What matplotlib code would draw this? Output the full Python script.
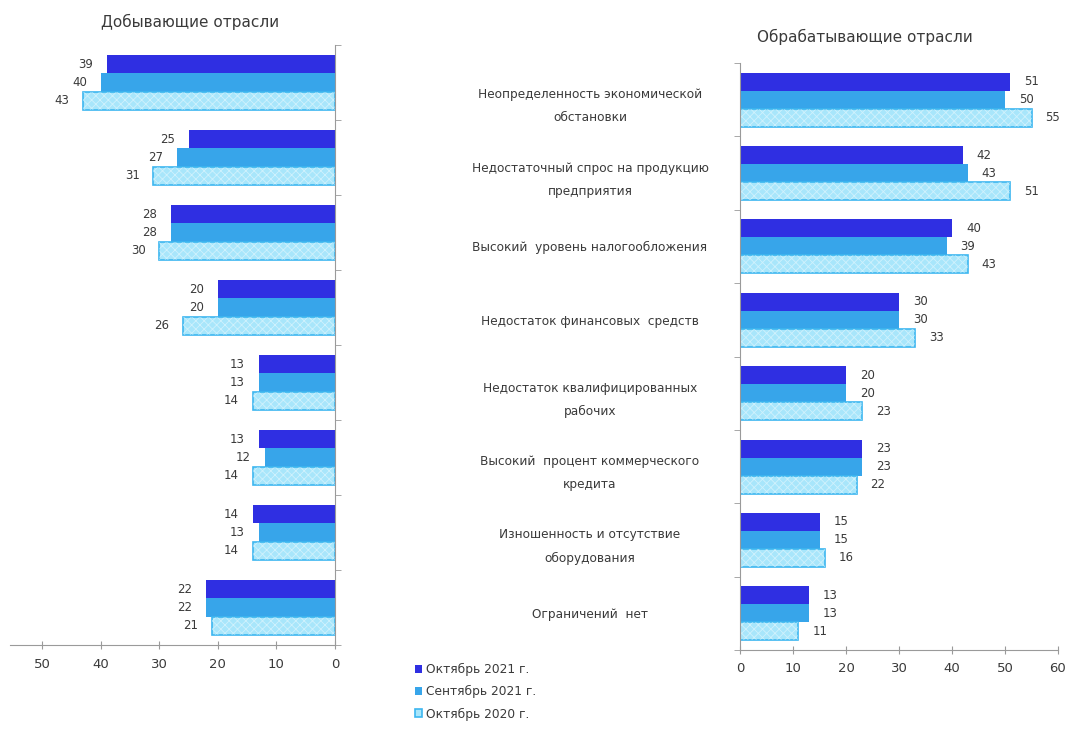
import numpy as np
import matplotlib
matplotlib.use("Agg")
import matplotlib.pyplot as plt

plt.rcParams['font.family'] = ['DejaVu Sans']
plt.rcParams['hatch.linewidth'] = 0.6

# Данные
series_names = ["Октябрь 2021 г.", "Сентябрь 2021 г.", "Октябрь 2020 г."]

mining_oct21 = [39, 25, 28, 20, 13, 13, 14, 22]
mining_sep21 = [40, 27, 28, 20, 13, 12, 13, 22]
mining_oct20 = [43, 31, 30, 26, 14, 14, 14, 21]

manuf_categories = [
    "Неопределенность экономической\nобстановки",
    "Недостаточный спрос на продукцию\nпредприятия",
    "Высокий  уровень налогообложения",
    "Недостаток финансовых  средств",
    "Недостаток квалифицированных\nрабочих",
    "Высокий  процент коммерческого\nкредита",
    "Изношенность и отсутствие\nоборудования",
    "Ограничений  нет",
]
manuf_oct21 = [51, 42, 40, 30, 20, 23, 15, 13]
manuf_sep21 = [50, 43, 39, 30, 20, 23, 15, 13]
manuf_oct20 = [55, 51, 43, 33, 23, 22, 16, 11]

c_dark = "#2f2fe2"
c_mid = "#37a5ea"
c_light = "#a8e6fb"
c_light_edge = "#3db6f0"
txt = "#3a3a3a"
spine_c = "#9a9a9a"

fig = plt.figure(figsize=(10.72, 7.31), dpi=100)
ax_l = fig.add_axes([10 / 1072, 1 - 645 / 731, 325 / 1072, 600 / 731])
ax_r = fig.add_axes([740 / 1072, 1 - 650 / 731, 318 / 1072, 587 / 731])

h = 0.245


def draw(ax, v1, v2, v3, right_side):
    y = np.arange(len(v1))
    b1 = ax.barh(y - h, v1, height=h, color=c_dark, linewidth=0)
    b2 = ax.barh(y, v2, height=h, color=c_mid, linewidth=0)
    b3 = ax.barh(y + h, v3, height=h, color=c_light, edgecolor=c_light_edge, linewidth=1.2)
    ax.barh(y + h, v3, height=h, color="none", edgecolor="white", hatch="xxxx", linewidth=0, alpha=0.45)
    for bars in (b1, b2, b3):
        for rect in bars:
            w = rect.get_width()
            yc = rect.get_y() + rect.get_height() / 2
            if right_side:
                ax.annotate(f"{w:.0f}", (w, yc), xytext=(10, 0), textcoords="offset points",
                            ha="left", va="center", fontsize=8.5, color=txt)
            else:
                ax.annotate(f"{w:.0f}", (w, yc), xytext=(-10, 0), textcoords="offset points",
                            ha="right", va="center", fontsize=8.5, color=txt)
    ax.set_ylim(len(v1) - 0.5, -0.5)
    for s in ax.spines.values():
        s.set_color(spine_c)
    ax.tick_params(axis="x", direction="inout", length=6, colors=spine_c, labelcolor=txt, labelsize=9.5, pad=6)
    return b1, b2, b3


# Добывающие отрасли
draw(ax_l, mining_oct21, mining_sep21, mining_oct20, right_side=False)
ax_l.set_xlim(55.5, 0)
ax_l.set_xticks([50, 40, 30, 20, 10, 0])
ax_l.spines["left"].set_visible(False)
ax_l.spines["top"].set_visible(False)
ax_l.yaxis.tick_right()
ax_l.set_yticks([])
ax_l.set_yticks(np.arange(-0.5, 8), minor=True)
ax_l.tick_params(axis="y", which="minor", right=True, left=False, length=4, colors=spine_c)

# Обрабатывающие отрасли
handles = draw(ax_r, manuf_oct21, manuf_sep21, manuf_oct20, right_side=True)
ax_r.set_xlim(0, 60)
ax_r.set_xticks(range(0, 61, 10))
ax_r.spines["right"].set_visible(False)
ax_r.spines["top"].set_visible(False)
ax_r.set_yticks(np.arange(len(manuf_categories)))
ax_r.set_yticklabels(manuf_categories, ha="center", fontsize=8.7, color=txt, linespacing=2.0)
ax_r.set_yticks(np.arange(-0.5, 8), minor=True)
ax_r.tick_params(axis="y", which="minor", length=4, colors=spine_c)
ax_r.tick_params(axis="y", which="major", length=0, pad=108)

fig.text(190 / 1072, 1 - 22 / 731, "Добывающие отрасли", ha="center", va="center", fontsize=11, color=txt)
fig.text(865 / 1072, 1 - 37 / 731, "Обрабатывающие отрасли", ha="center", va="center", fontsize=11, color=txt)

fig.legend(handles, series_names, loc="upper left", bbox_to_anchor=(404 / 1072, 1 - 652 / 731),
           frameon=False, handlelength=0.6, handleheight=0.6, handletextpad=0.3,
           labelspacing=0.75, fontsize=8.8, labelcolor=txt)

fig.savefig("out.png", dpi=100)
